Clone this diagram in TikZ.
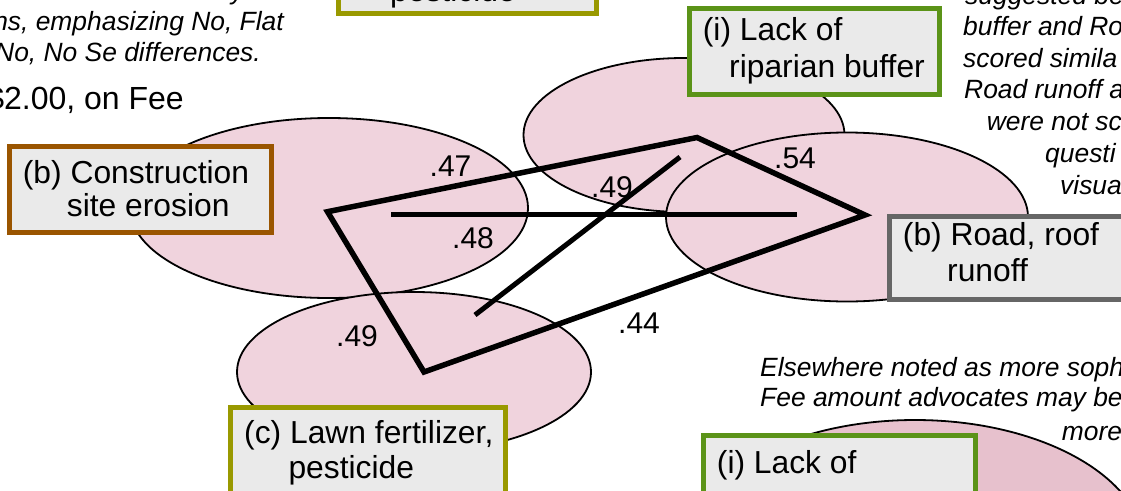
\documentclass[tikz,border=0pt]{standalone}
\usepackage{fontspec}
\setmainfont{Liberation Sans}
\usetikzlibrary{shapes.geometric}
\definecolor{pinkfill}{HTML}{F0D3DD}
\definecolor{pinkdark}{HTML}{E7C1CD}
\definecolor{boxfill}{HTML}{EAEAEA}
\definecolor{brownb}{HTML}{9A5500}
\definecolor{greenb}{HTML}{5B9318}
\definecolor{oliveb}{HTML}{999900}
\definecolor{grayb}{HTML}{666666}
\tikzset{
  blob/.style={ellipse, draw=black, line width=1.8pt, fill=pinkfill, inner sep=0pt, outer sep=0pt},
  labelbox/.style={rectangle, line width=5pt, fill=boxfill, inner sep=0pt, outer sep=2.5pt, anchor=north west},
  boxtext/.style={anchor=base west, inner sep=0pt, font=\fontsize{31.8}{36}\selectfont},
  note/.style={anchor=base west, inner sep=0pt, font=\fontsize{26.4}{31}\selectfont\itshape},
  notee/.style={anchor=base east, inner sep=0pt, font=\fontsize{26.4}{31}\selectfont\itshape},
  corr/.style={anchor=base west, inner sep=0pt, font=\fontsize{30}{34}\selectfont},
  quad/.style={line width=5.5pt, line join=miter},
  link/.style={line width=5pt},
}
\begin{document}
\begin{tikzpicture}[x=1pt,y=-1pt]
\clip (0,0) rectangle (1121,490);
\fill[white] (0,0) rectangle (1121,490);

% ellipses
\node[blob, minimum width=398pt, minimum height=180pt] (ce) at (329,208) {};
\node[blob, minimum width=354pt, minimum height=160pt] (lw) at (414,372) {};
\node[blob, minimum width=321pt, minimum height=154pt] (rp) at (684,135) {};
\node[blob, minimum width=362pt, minimum height=169pt] (rd) at (847,217) {};
\node[blob, fill=pinkdark, minimum width=460pt, minimum height=260pt] (lb2) at (915,550) {};

% polygon and lines
\coordinate (qL) at (327.5,211.7);
\coordinate (qT) at (697,137.5);
\coordinate (qR) at (865,215);
\coordinate (qB) at (424,372);
\coordinate (hA) at (391,214.5);
\coordinate (hB) at (797,214.5);
\coordinate (dA) at (475,315);
\coordinate (dB) at (680,157);
\draw[quad] (qL) -- (qT) -- (qR) -- (qB) -- cycle;
\draw[link] (hA) -- (hB);
\draw[link] (dA) -- (dB);

% correlation labels
\node[corr] (c47) at (429.5,176.7) {.47};
\node[corr] (c48) at (452,248.3) {.48};
\node[corr] (c49a) at (591,197.5) {.49};
\node[corr] (c54) at (774,168) {.54};
\node[corr] (c49b) at (336,346.7) {.49};
\node[corr] (c44) at (618,333.3) {.44};

% boxes
\node[labelbox, draw=brownb, minimum width=262pt, minimum height=86pt] (cb) at (7,144) {};
\node[boxtext] (cbt1) at (22.7,183) {(b) Construction};
\node[boxtext] (cbt2) at (66.7,216.5) {site erosion};

\node[labelbox, draw=greenb, minimum width=250pt, minimum height=86pt] (rb) at (687,6) {};
\node[boxtext] (rbt1) at (702.7,40.7) {(i) Lack of};
\node[boxtext] (rbt2) at (729,77) {riparian buffer};

\node[labelbox, draw=grayb, minimum width=250pt, minimum height=83pt] (rr) at (887,214) {};
\node[boxtext] (rrt1) at (902.7,245) {(b) Road, roof};
\node[boxtext] (rrt2) at (947,281) {runoff};

\node[labelbox, draw=oliveb, minimum width=275pt, minimum height=86pt] (lf) at (228,405) {};
\node[boxtext] (lft1) at (244,443) {(c) Lawn fertilizer,};
\node[boxtext] (lft2) at (288.3,478) {pesticide};

\node[labelbox, draw=greenb, minimum width=272pt, minimum height=86pt] (lk) at (701,433) {};
\node[boxtext] (lkt1) at (716.7,473) {(i) Lack of};

\node[labelbox, draw=oliveb, minimum width=258pt, minimum height=86pt] (tp) at (336,-75) {};
\node[boxtext] (tpt) at (390,1.5) {pesticide};

% notes left
\node[note] (n0) at (231,-0.5) {y};
\node[notee] (n1) at (284,30.7) {ns, emphasizing No, Flat};
\node[notee] (n2) at (261,61.7) {No, No Se differences.};
\node[anchor=base east, inner sep=0pt, font=\fontsize{32}{36}\selectfont] (fee) at (184,109) {\$2.00, on Fee};

% notes right
\node[note] (r1) at (965,4.5) {suggested be};
\node[note] (r2) at (963,35.5) {buffer and Ro};
\node[note] (r3) at (963,67) {scored simila};
\node[note] (r4) at (964,98.5) {Road runoff a};
\node[note] (r5) at (986.7,130.5) {were not sc};
\node[note] (r6) at (1045,162) {questi};
\node[note] (r7) at (1060,194) {visua};

% notes bottom right
\node[note] (e1) at (760,376.7) {Elsewhere noted as more soph};
\node[note] (e2) at (760,406.7) {Fee amount advocates may be};
\node[note] (e3) at (1061.7,440) {more};
\end{tikzpicture}
\end{document}
